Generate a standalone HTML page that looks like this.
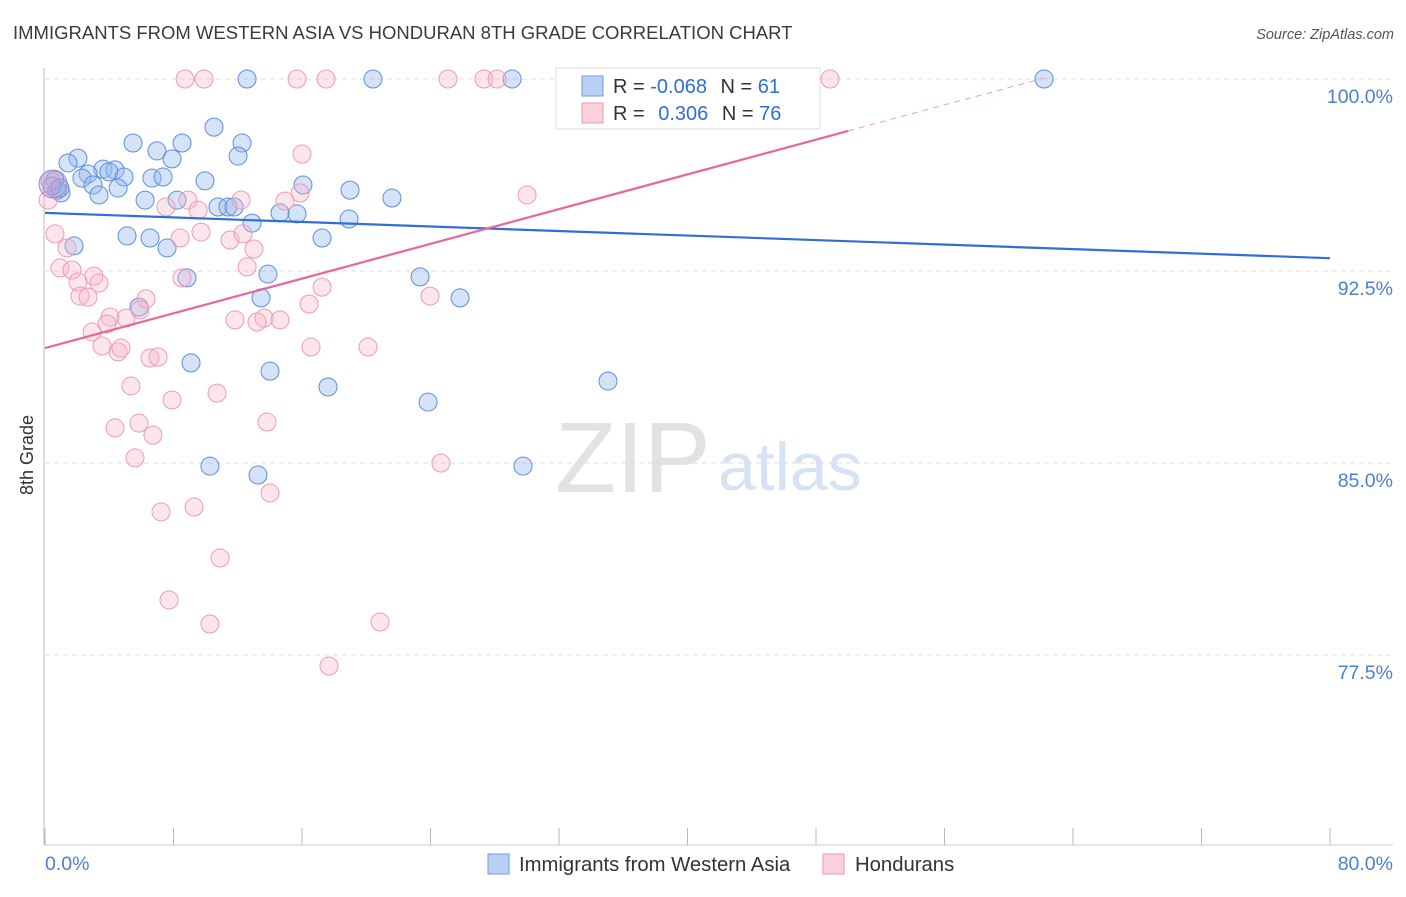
<!DOCTYPE html>
<html><head><meta charset="utf-8"><style>
body{margin:0;background:#fff;font-family:"Liberation Sans",sans-serif}
svg text{font-family:"Liberation Sans",sans-serif}
</style></head><body>
<svg id="chart" width="1406" height="892" xmlns="http://www.w3.org/2000/svg">
<text x="13" y="39" font-size="18.5" fill="#3a3a3a">IMMIGRANTS FROM WESTERN ASIA VS HONDURAN 8TH GRADE CORRELATION CHART</text>
<text x="1394" y="39" font-size="14.5" fill="#555" font-style="italic" text-anchor="end">Source: ZipAtlas.com</text>
<text transform="translate(33,455) rotate(-90)" font-size="18" fill="#333" text-anchor="middle">8th Grade</text>
<g>
<text x="555" y="492" font-size="100" font-family="Liberation Serif" fill="#e2e2e2">ZIP</text>
<text x="718" y="490" font-size="68" fill="#d6e3f5">atlas</text>
</g>
<g id="grid"></g><g id="axes"></g><g id="pts"></g><g id="trend"></g>
<g>
<rect x="556" y="68" width="264" height="61" fill="#fff" stroke="#ddd"/>
<rect x="582" y="76" width="21" height="20" fill="#b9d0f5" stroke="#6f9be0"/>
<rect x="582" y="103" width="21" height="20" fill="#fbd0dd" stroke="#ec99b3"/>
<text x="613" y="93" font-size="20" fill="#333">R = <tspan fill="#2f6fd6">-0.068</tspan>  <tspan dx="8">N =</tspan> <tspan fill="#2f6fd6">61</tspan></text>
<text x="613" y="120" font-size="20" fill="#333">R = <tspan dx="8" fill="#2f6fd6">0.306</tspan>  <tspan dx="8">N =</tspan> <tspan fill="#2f6fd6">76</tspan></text>
</g>
<g>
<rect x="488" y="854" width="21" height="20" fill="#b9d0f5" stroke="#6f9be0"/>
<text x="519" y="871" font-size="20.3" fill="#333">Immigrants from Western Asia</text>
<rect x="823" y="854" width="21" height="20" fill="#fbd0dd" stroke="#ec99b3"/>
<text x="855" y="871" font-size="20.3" fill="#333">Hondurans</text>
</g>
</svg>
<script>
const yTicks=[100,92.5,85,77.5];
const yTickLabels=["100.0%","92.5%","85.0%","77.5%"];
const xTickLabels=["0.0%","80.0%"];
const blueX=[12.58,20.42,29.08,62.2,10.52,5.48,8.53,12.27,6.97,12.02,2.05,7.91,1.43,3.61,4.36,3.98,2.68,4.92,6.66,7.35,2.30,9.96,2.99,16.06,4.55,18.99,0.75,1.0,3.36,21.6,6.23,8.22,10.77,11.39,14.63,15.69,18.93,12.89,5.11,6.54,17.25,1.81,7.6,13.88,8.84,23.35,13.45,25.84,5.85,9.09,14.01,35.05,17.62,23.85,10.27,29.76,13.26,0.62,0.44,0.93,11.77];
const blueY=[100,100,100,100,98.12,97.5,97.5,97.5,97.19,96.99,96.91,96.88,96.72,96.48,96.45,96.37,96.29,96.17,96.13,96.17,96.13,96.02,95.86,95.86,95.74,95.66,95.66,95.55,95.47,95.35,95.27,95.27,95.0,95.0,94.77,94.73,94.53,94.37,93.87,93.79,93.79,93.48,93.4,92.38,92.23,92.27,91.45,91.45,91.09,88.91,88.59,88.2,87.97,87.38,84.88,84.88,84.53,96.05,95.82,95.74,95.0];
const pinkX=[8.72,9.9,15.69,17.5,25.09,27.33,28.14,41.84,42.52,48.87,0.31,0.19,16.0,30.01,12.2,8.9,7.53,9.53,14.94,15.88,0.62,1.37,9.71,8.41,11.52,12.33,13.01,0.93,1.68,3.05,2.05,3.36,8.53,12.58,2.18,2.68,6.29,5.91,17.25,16.44,23.97,4.05,5.04,11.83,13.64,13.2,14.63,2.93,3.86,3.55,4.55,4.73,6.54,7.04,16.56,20.11,5.35,10.71,7.91,4.36,5.85,6.72,13.82,5.6,24.65,14.01,9.28,7.22,10.9,7.72,10.27,20.86,17.68];
const pinkY=[100,100,100,100,100,100,100,100,100,100,96.05,95.27,97.07,95.47,95.27,95.27,95.0,94.88,95.23,95.55,93.95,93.4,94.02,93.79,93.71,93.95,93.36,92.62,92.54,92.3,92.07,92.03,92.23,92.66,91.52,91.48,91.41,90.98,91.87,91.21,91.52,90.7,90.66,90.59,90.66,90.51,90.59,90.12,90.43,89.57,89.34,89.49,89.1,89.14,89.53,89.53,88.01,87.73,87.46,86.37,86.56,86.09,86.6,85.2,85.0,83.83,83.28,83.09,81.29,79.65,78.71,78.79,77.07];
const blueTrend=[94.77,93.0];   // y at x=0 and x=80
const pinkTrend=[89.49,97.97];  // y at x=0 and x=50
const pinkSolidEnd=50, pinkDashEnd=62.2;
const NS="http://www.w3.org/2000/svg";
const sx=v=>45+v*1285/80, sy=v=>79+(100-v)*25.6;
function mk(tag,attrs,parent){const e=document.createElementNS(NS,tag);for(const k in attrs)e.setAttribute(k,attrs[k]);document.getElementById(parent).appendChild(e);return e;}
yTicks.forEach((t,i)=>{
 const g=mk('line',{x1:45,x2:1393,y1:sy(t),y2:sy(t),stroke:'#ddd','stroke-dasharray':'5,4'},'grid');
 
 
 const l=mk('text',{x:1393,y:sy(t)+24,'font-size':19.5,fill:'#4a7fd4','text-anchor':'end'},'axes');
 l.textContent=yTickLabels[i];
 
 
});
const ax=mk('line',{x1:44,x2:44,y1:68,y2:845,stroke:'#bbb'},'axes');


const bx=mk('line',{x1:44,x2:1393,y1:845,y2:845,stroke:'#ccc'},'axes');


for(let i=0;i<=10;i++){const t=mk('line',{x1:sx(i*8),x2:sx(i*8),y1:828,y2:845,stroke:'#bbb'},'axes');
 
 }
[[0,'start',xTickLabels[0]],[80,'end',xTickLabels[1]]].forEach(([v,a,s])=>{
 const t=mk('text',{x:v==0?45:1393,y:870,'font-size':19.5,fill:'#4a7fd4','text-anchor':a},'axes');t.textContent=s;
 
 });
blueX.forEach((x,i)=>{const c=mk('circle',{cx:sx(x),cy:sy(blueY[i]),r:9,fill:'rgba(150,185,240,0.4)',stroke:'#5b8fdc','stroke-width':1},'pts');
 
 });
pinkX.forEach((x,i)=>{const c=mk('circle',{cx:sx(x),cy:sy(pinkY[i]),r:9,fill:'rgba(248,180,200,0.35)',stroke:'#ee9ab5','stroke-width':1},'pts');
 
 });
const big=mk('circle',{cx:sx(0.5),cy:sy(95.9),r:14,fill:'rgba(170,150,210,0.4)',stroke:'#9a8fd4'},'pts');


const bl=mk('line',{x1:sx(0),y1:sy(blueTrend[0]),x2:sx(80),y2:sy(blueTrend[1]),stroke:'#2f6fd6','stroke-width':2.2},'trend');


const py=x=>pinkTrend[0]+(pinkTrend[1]-pinkTrend[0])*x/50;
const pl=mk('line',{x1:sx(0),y1:sy(py(0)),x2:sx(pinkSolidEnd),y2:sy(py(pinkSolidEnd)),stroke:'#e8669a','stroke-width':2.2},'trend');


const pd=mk('line',{x1:sx(pinkSolidEnd),y1:sy(py(pinkSolidEnd)),x2:sx(pinkDashEnd),y2:sy(py(pinkDashEnd)),stroke:'#e8a0b8','stroke-width':1,'stroke-dasharray':'6,5'},'trend');


</script>
</body></html>
